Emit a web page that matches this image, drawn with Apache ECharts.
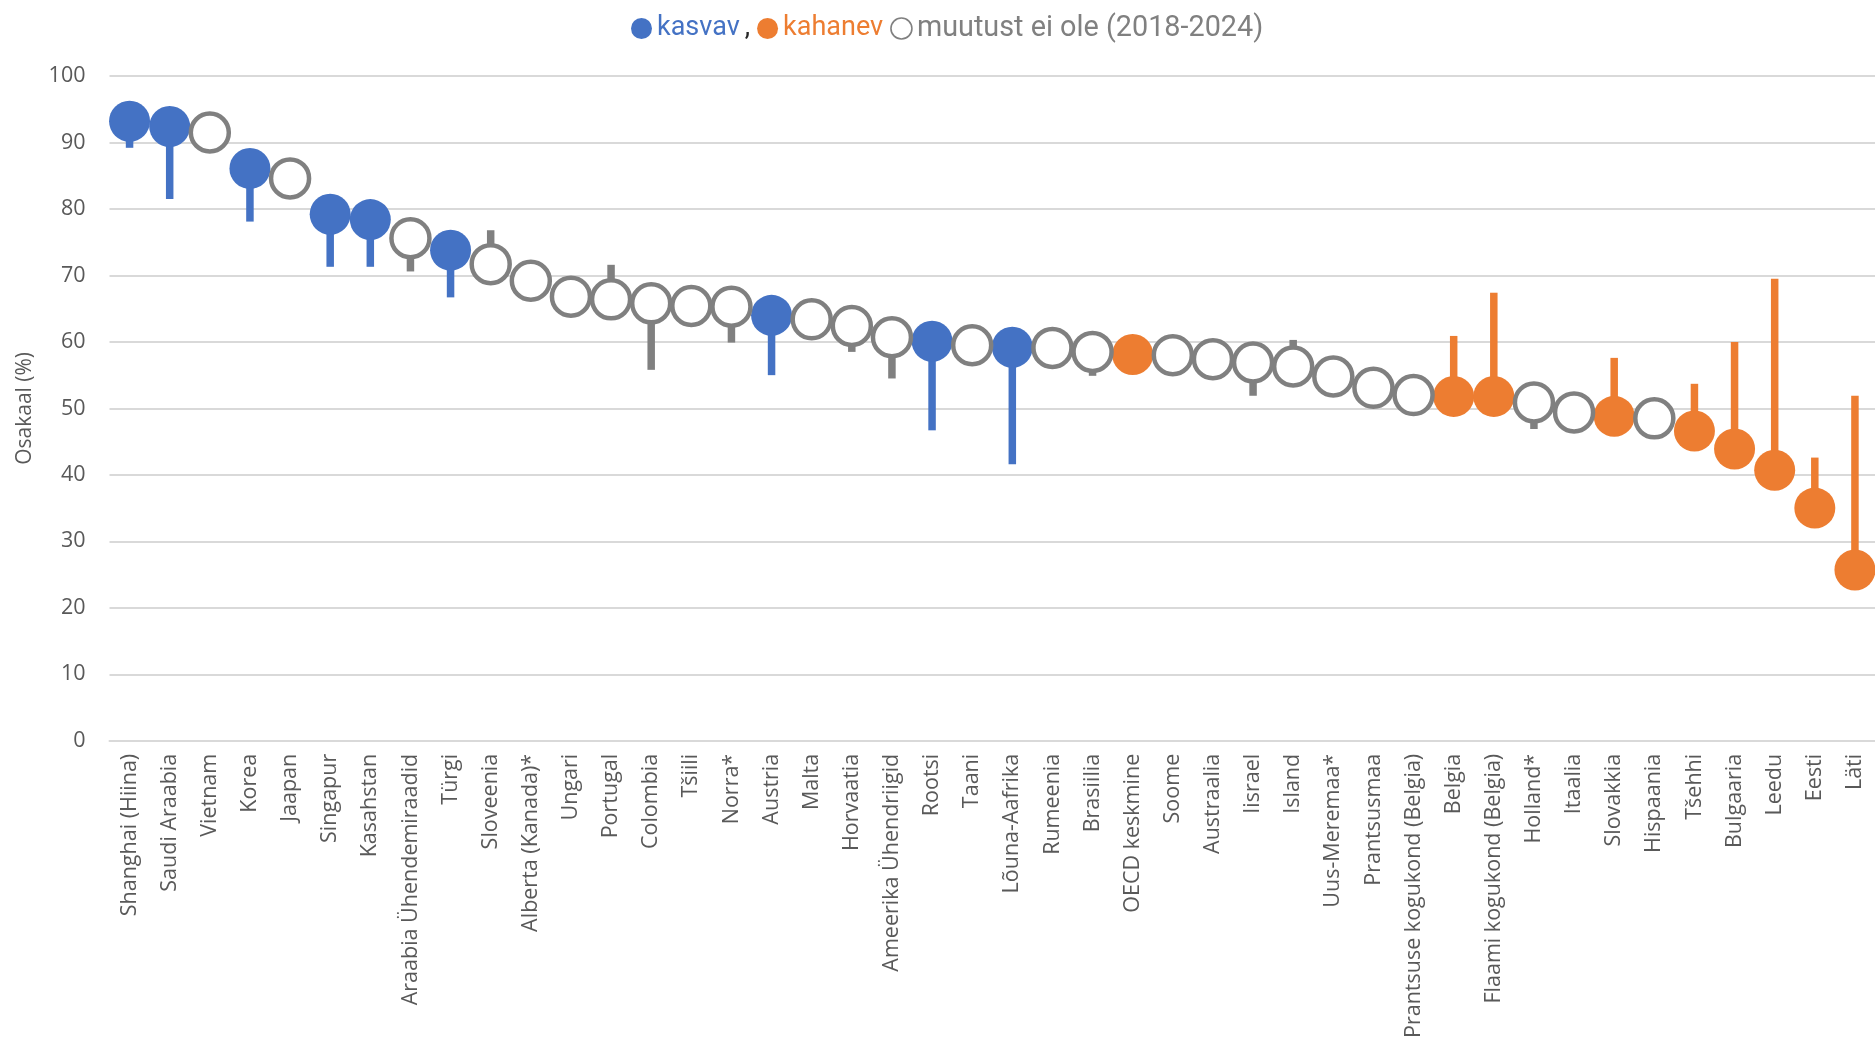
<!DOCTYPE html>
<html>
<head>
<meta charset="utf-8">
<script src="https://cdn.jsdelivr.net/npm/echarts@6/dist/echarts.min.js"></script>
<style>
  html, body { margin: 0; padding: 0; background: #ffffff; }
  #chart { width: 1875px; height: 1041px; }
</style>
</head>
<body>
<div id="chart"></div>
<script>
// ---- Data ----
const categories = [
  'Shanghai (Hiina)', 'Saudi Araabia', 'Vietnam', 'Korea', 'Jaapan', 'Singapur', 'Kasahstan',
  'Araabia Ühendemiraadid', 'Türgi', 'Sloveenia', 'Alberta (Kanada)*', 'Ungari', 'Portugal',
  'Colombia', 'Tšiili', 'Norra*', 'Austria', 'Malta', 'Horvaatia', 'Ameerika Ühendriigid',
  'Rootsi', 'Taani', 'Lõuna-Aafrika', 'Rumeenia', 'Brasiilia', 'OECD keskmine', 'Soome',
  'Austraalia', 'Iisrael', 'Island', 'Uus-Meremaa*', 'Prantsusmaa', 'Prantsuse kogukond (Belgia)',
  'Belgia', 'Flaami kogukond (Belgia)', 'Holland*', 'Itaalia', 'Slovakkia', 'Hispaania',
  'Tšehhi', 'Bulgaaria', 'Leedu', 'Eesti', 'Läti'
];
// share in 2024 (marker)
const value2024 = [
  93.2, 92.4, 91.5, 86.1, 84.6, 79.2, 78.4,
  75.6, 73.8, 71.7, 69.2, 66.8, 66.4,
  65.8, 65.4, 65.3, 64.0, 63.4, 62.4, 60.7,
  60.1, 59.5, 59.2, 59.1, 58.5, 58.1, 58.0,
  57.4, 56.9, 56.3, 54.8, 53.1, 52.0,
  51.8, 51.8, 50.9, 49.4, 48.8, 48.5,
  46.6, 43.9, 40.7, 35.0, 25.7
];
// share in 2018 (end of stem)
const value2018 = [
  89.2, 81.5, 91.5, 78.1, 84.6, 71.3, 71.3,
  70.6, 66.7, 76.8, 69.2, 66.8, 71.6,
  55.8, 65.4, 59.9, 55.0, 63.4, 58.5, 54.5,
  46.7, 59.5, 41.6, 59.1, 54.9, 58.1, 58.0,
  57.4, 51.9, 60.3, 54.8, 53.1, 52.0,
  60.9, 67.4, 46.9, 49.4, 57.6, 48.5,
  53.7, 60.0, 69.5, 42.6, 51.9
];
// u = kasvav, d = kahanev, n = muutust ei ole
const trend = [
  'u', 'u', 'n', 'u', 'n', 'u', 'u',
  'n', 'u', 'n', 'n', 'n', 'n',
  'n', 'n', 'n', 'u', 'n', 'n', 'n',
  'u', 'n', 'u', 'n', 'n', 'd', 'n',
  'n', 'n', 'n', 'n', 'n', 'n',
  'd', 'd', 'n', 'n', 'd', 'n',
  'd', 'd', 'd', 'd', 'd'
];
const yTicks = { min: 0, max: 100, interval: 10 };
const legendNames = ['kasvav', 'kahanev', 'muutust ei ole (2018-2024)'];

// ---- Styles ----
const BLUE = '#4472C4', ORANGE = '#ED7D31', GREY = '#808080', TXT = '#595959';
const colorOf = { u: BLUE, d: ORANGE, n: GREY };
const LEG_FONT = "Roboto, 'Liberation Sans', sans-serif";

const chart = echarts.init(document.getElementById('chart'), null, { renderer: 'canvas' });

const pick = (t) => value2024.map((v, i) => (trend[i] === t ? v : '-'));

const option = {
  backgroundColor: '#ffffff',
  animation: false,
  textStyle: { fontFamily: 'Open Sans' },
  grid: { left: 109.5, right: -8.2, top: 76, bottom: 293, containLabel: false },
  legend: {
    left: 626,
    top: 9,
    itemWidth: 21,
    itemHeight: 21,
    itemGap: 7,
    icon: 'circle',
    textStyle: {
      fontFamily: LEG_FONT,
      fontSize: 27,
      rich: {
        b: { color: BLUE, fontSize: 27, fontFamily: LEG_FONT },
        o: { color: ORANGE, fontSize: 27, fontFamily: LEG_FONT, padding: [0, 9, 0, 0] },
        g: { color: GREY, fontSize: 28.8, fontFamily: LEG_FONT },
        k: { color: '#262626', fontSize: 27, fontFamily: LEG_FONT, padding: [0, 0, 0, 5] }
      }
    },
    formatter: function (name) {
      if (name === legendNames[0]) return '{b|' + name + '}{k|,}';
      if (name === legendNames[1]) return '{o|' + name + '}';
      return '{g|' + name + '}';
    },
    data: [
      { name: legendNames[0], itemStyle: { color: BLUE } },
      { name: legendNames[1], itemStyle: { color: ORANGE } },
      { name: legendNames[2], itemStyle: { color: '#ffffff', borderColor: GREY, borderWidth: 1.6 } }
    ]
  },
  xAxis: {
    type: 'category',
    data: categories,
    boundaryGap: true,
    axisLine: { show: true, lineStyle: { color: '#d9d9d9', width: 2 } },
    axisTick: { show: false },
    axisLabel: {
      interval: 0,
      rotate: 90,
      margin: 13,
      color: TXT,
      fontSize: 21.5,
      fontFamily: 'Open Sans'
    },
    splitLine: { show: false }
  },
  yAxis: {
    type: 'value',
    min: yTicks.min,
    max: yTicks.max,
    interval: yTicks.interval,
    name: 'Osakaal (%)',
    nameLocation: 'middle',
    nameGap: 74,
    nameRotate: 90,
    nameTextStyle: { color: TXT, fontSize: 21, fontFamily: 'Open Sans' },
    axisLine: { show: false },
    axisTick: { show: false },
    axisLabel: { color: TXT, fontSize: 21.5, margin: 24, fontFamily: 'Open Sans' },
    splitLine: { show: true, lineStyle: { color: '#d9d9d9', width: 2 } }
  },
  series: [
    {
      name: 'stems',
      type: 'custom',
      silent: true,
      z: 1,
      encode: { x: 0, y: [1, 2] },
      data: categories.map((c, i) => [i, value2024[i], value2018[i]]),
      renderItem: function (params, api) {
        const i = api.value(0);
        const a = api.coord([i, api.value(1)]);
        const b = api.coord([i, api.value(2)]);
        return {
          type: 'line',
          shape: { x1: a[0], y1: a[1], x2: b[0], y2: b[1] },
          style: { stroke: colorOf[trend[params.dataIndex]], lineWidth: 7.5, lineCap: 'butt' }
        };
      }
    },
    {
      name: legendNames[0],
      type: 'scatter',
      z: 3,
      symbol: 'circle',
      symbolSize: 41,
      itemStyle: { color: BLUE, opacity: 1 },
      data: pick('u')
    },
    {
      name: legendNames[1],
      type: 'scatter',
      z: 3,
      symbol: 'circle',
      symbolSize: 41,
      itemStyle: { color: ORANGE, opacity: 1 },
      data: pick('d')
    },
    {
      name: legendNames[2],
      type: 'scatter',
      z: 3,
      symbol: 'circle',
      symbolSize: 38,
      itemStyle: { color: '#ffffff', borderColor: GREY, borderWidth: 4.5, opacity: 1 },
      data: pick('n')
    }
  ]
};

chart.setOption(option);
</script>
</body>
</html>
